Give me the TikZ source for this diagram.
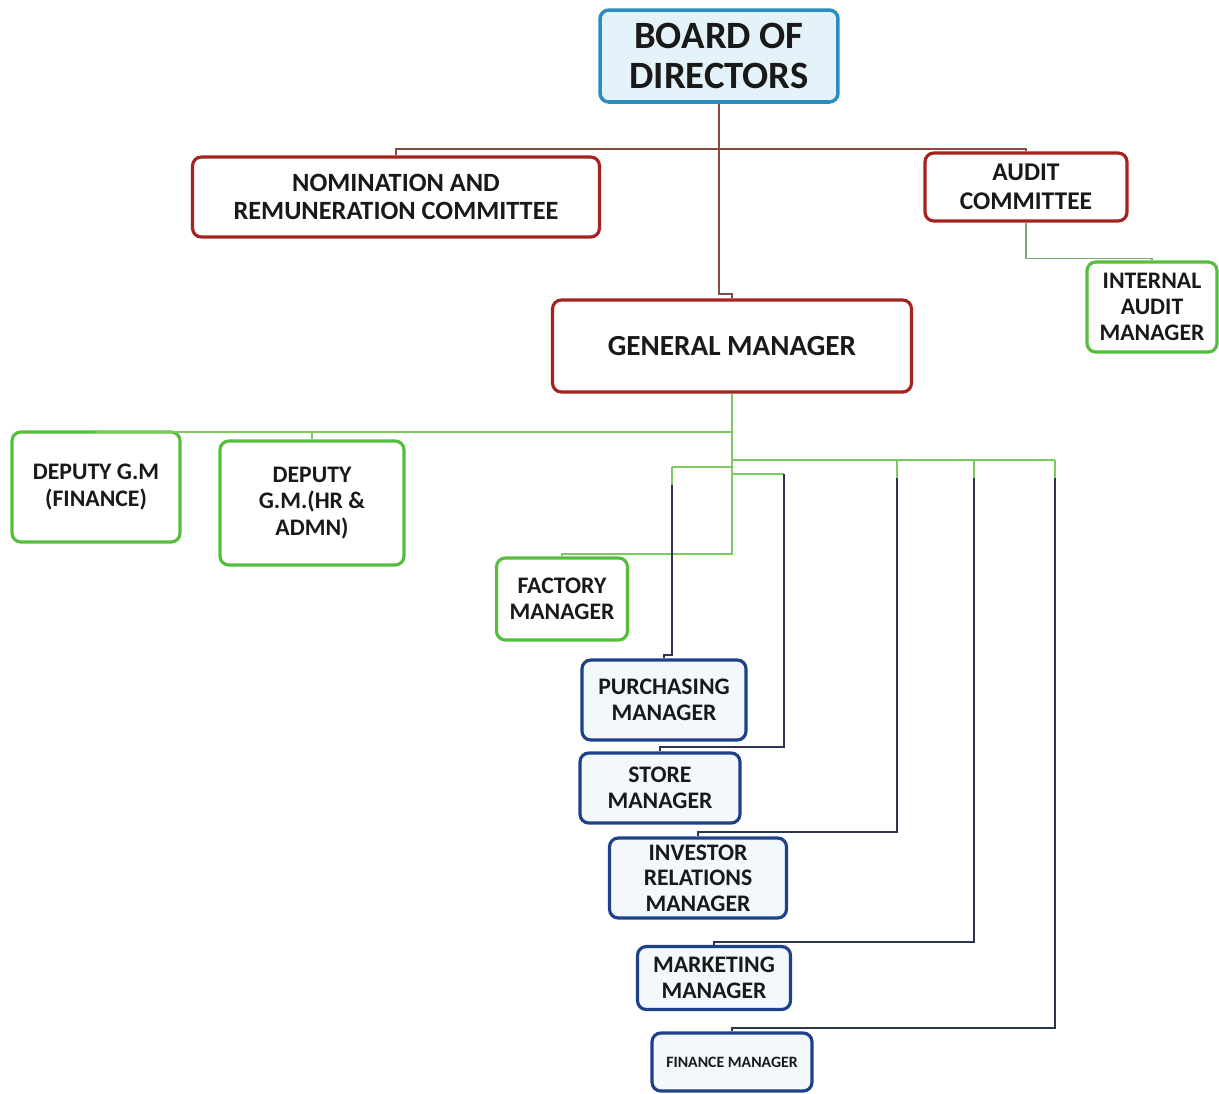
\documentclass[tikz,border=0pt]{standalone}
\usepackage{fontspec}
\setmainfont{Carlito}
\usepackage{tikz}
\usetikzlibrary{positioning}
\definecolor{boardblue}{RGB}{45,140,190}
\definecolor{boardfill}{RGB}{228,242,250}
\definecolor{myred}{RGB}{165,35,30}
\definecolor{mygreen}{RGB}{85,190,60}
\definecolor{myblue}{RGB}{30,65,135}
\definecolor{bluefill}{RGB}{242,248,252}
\definecolor{linered}{RGB}{135,75,65}
\definecolor{linegreen}{RGB}{125,200,95}
\definecolor{linedark}{RGB}{45,55,75}
\newcommand{\fs}[2]{\fontsize{#1}{#2}\selectfont\bfseries}
\tikzstyle{box} = [rectangle, draw, line width=1.8pt, rounded corners=5pt, fill=white,
    align=center, inner sep=0pt, text=black!90, font=\fs{13.5}{15}]
\tikzstyle{redbox} = [box, draw=myred]
\tikzstyle{greenbox} = [box, draw=mygreen]
\tikzstyle{bluebox} = [box, draw=myblue, fill=bluefill]
\tikzstyle{redline} = [draw, linered, line width=1pt]
\tikzstyle{greenline} = [draw, linegreen, line width=1.2pt]
\tikzstyle{darkline} = [draw, linedark, line width=1pt]

\begin{document}
\begin{tikzpicture}[x=0.02cm, y=-0.02cm]
    \useasboundingbox (0,0) rectangle (1219,1093);
    % Place nodes
    \node [box, draw=boardblue, fill=boardfill, line width=2pt, minimum width=4.76cm, minimum height=1.84cm, font=\fs{22}{23}] (bod) at (719,56) {BOARD OF\\DIRECTORS};
    \node [redbox, minimum width=8.14cm, minimum height=1.6cm, font=\fs{15}{16}] (nrc) at (396,197) {NOMINATION AND\\REMUNERATION COMMITTEE};
    \node [redbox, minimum width=4.04cm, minimum height=1.36cm, font=\fs{14.5}{16.4}] (adc) at (1026,187) {AUDIT\\COMMITTEE};
    \node [greenbox, minimum width=2.6cm, minimum height=1.8cm] (iam) at (1152,307) {INTERNAL\\AUDIT\\MANAGER};
    \node [redbox, minimum width=7.18cm, minimum height=1.84cm, font=\fs{16.6}{18}] (gm) at (732,346) {GENERAL MANAGER};
    \node [greenbox, minimum width=3.36cm, minimum height=2.2cm] (dgf) at (96,487) {DEPUTY G.M\\(FINANCE)};
    \node [greenbox, minimum width=3.68cm, minimum height=2.48cm] (dgh) at (312,503) {DEPUTY\\G.M.(HR \&\\ADMN)};
    \node [greenbox, minimum width=2.62cm, minimum height=1.64cm] (fm) at (562,599) {FACTORY\\MANAGER};
    \node [bluebox, minimum width=3.28cm, minimum height=1.6cm] (pm) at (664,700) {PURCHASING\\MANAGER};
    \node [bluebox, minimum width=3.2cm, minimum height=1.4cm] (sm) at (660,788) {STORE\\MANAGER};
    \node [bluebox, minimum width=3.54cm, minimum height=1.6cm, font=\fs{13.5}{14.6}] (irm) at (698,878) {INVESTOR\\RELATIONS\\MANAGER};
    \node [bluebox, minimum width=3.06cm, minimum height=1.26cm] (mm) at (714,978) {MARKETING\\MANAGER};
    \node [bluebox, minimum width=3.2cm, minimum height=1.16cm, font=\fs{9}{10}] (fin) at (732,1062) {FINANCE MANAGER};

    % board and committees
    \coordinate (bodJ) at (719,149);
    \coordinate (gmT) at (732,294);
    \draw [redline] (bod.south) |- (gmT) -- (gm.north);
    \draw [redline] (nrc.north) |- (bodJ) -| (adc.north);
    \draw [redline, linegreen!60!gray] (adc.south) -- ++(0,36) -| (iam.north);

    % general manager
    \draw [greenline] (gm.south) -- ++(0,38) coordinate (gmJ) -| (dgf.north);
    \draw [greenline] (gmJ) -| (dgh.north);
    \draw [greenline] (gmJ) -- ++(0,122) -| (fm.north);

    % managers
    \coordinate (busA) at (732,460);
    \coordinate (busB) at (1055,460);
    \coordinate (irJ) at (897,460);
    \coordinate (mmJ) at (974,460);
    \coordinate (pmJ) at (672,467);
    \coordinate (smJ) at (784,474);
    \draw [greenline, line width=1.6pt] (busA) -- (busB);
    \draw [greenline] (busA |- pmJ) -- (pmJ);
    \draw [greenline] (busA |- smJ) -- (smJ);
    \draw [darkline] (pmJ) -- ++(0,188) -| (pm.north);
    \draw [darkline] (smJ) -- ++(0,273) -| (sm.north);
    \draw [darkline] (irJ) -- ++(0,372) -| (irm.north);
    \draw [darkline] (mmJ) -- ++(0,482) -| (mm.north);
    \draw [darkline] (busB) -- ++(0,568) -| (fin.north);
    \foreach \c in {pmJ, irJ, mmJ, busB}
        \draw [greenline, line width=1.6pt] (\c) -- ++(0,18);
\end{tikzpicture}
\end{document}
